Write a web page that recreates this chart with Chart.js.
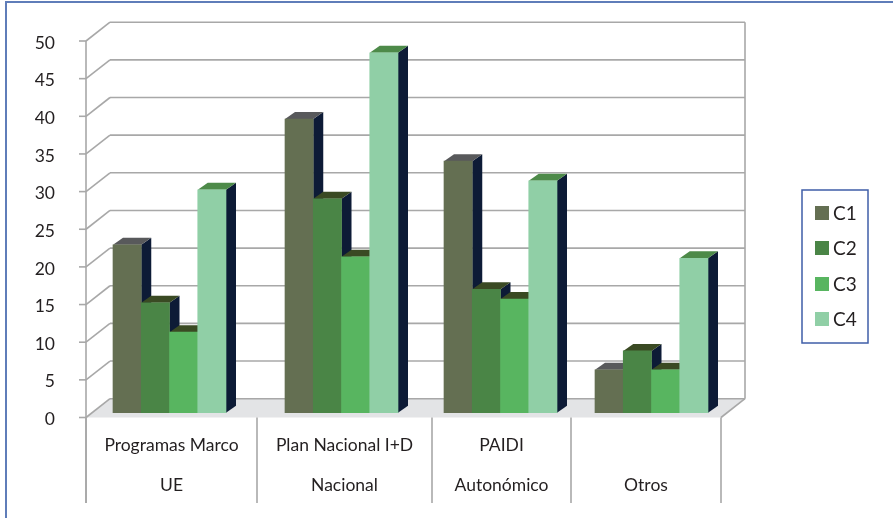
<!DOCTYPE html>
<html>
<head>
<meta charset="utf-8">
<title>C1-C4 por programa</title>
<script src="https://cdn.jsdelivr.net/npm/chart.js@4"></script>
<style>
  html, body { margin: 0; padding: 0; background: #fff; }
  canvas { display: block; }
</style>
</head>
<body>
<canvas id="chart" width="893" height="518"></canvas>
<script>
// Values per funding programme
const categories = [
  ['Programas Marco', 'UE'],
  ['Plan Nacional I+D', 'Nacional'],
  ['PAIDI', 'Autonómico'],
  ['', 'Otros'],
];
const seriesNames = ['C1', 'C2', 'C3', 'C4'];
const c1 = [22.3, 39.0, 33.4, 5.7];
const c2 = [14.6, 28.4, 16.4, 8.2];
const c3 = [10.7, 20.7, 15.1, 5.7];
const c4 = [29.6, 47.8, 30.8, 20.5];
const yMax = 50;
const yStep = 5;

// Colours: front, top and side face of each series
const frontColors = ['#646f52', '#4a8546', '#58b560', '#90cfa6'];
const topColors = ['#58595b', '#3a4a23', '#3a4a23', '#4d8a49'];
const sideColor = '#0d1b36';
const gridColor = '#a8a8a8';
const textColor = '#231f20';
const fontFamily = 'Lato, sans-serif';

// Layout of the fake 3D box, in canvas pixels
const columnEdges = [86, 257, 432, 571, 721];
const groupCenters = [169.5, 341.5, 500.5, 651.5];
const wallDepth = { x: 24, y: 18.8 };
const barDepth = { x: 10, y: 7 };
const barLift = 4.8;
const barWidth = 28.25;
const axisBottom = 503;

// Category scale with columns of unequal width
class SplitCategoryScale extends Chart.CategoryScale {
  getPixelForValue(value) {
    return groupCenters[typeof value === 'number' ? value : this.parse(value)];
  }
  getPixelForTick(index) {
    return (columnEdges[index] + columnEdges[index + 1]) / 2;
  }
}
SplitCategoryScale.id = 'splitCategory';
SplitCategoryScale.defaults = Chart.CategoryScale.defaults;
Chart.register(SplitCategoryScale);

function line(ctx, x1, y1, x2, y2) {
  ctx.beginPath();
  ctx.moveTo(x1, y1);
  ctx.lineTo(x2, y2);
  ctx.stroke();
}

function polygon(ctx, points, fill) {
  ctx.fillStyle = fill;
  ctx.beginPath();
  points.forEach((p, i) => (i ? ctx.lineTo(p[0], p[1]) : ctx.moveTo(p[0], p[1])));
  ctx.closePath();
  ctx.fill();
}

// Walls, floor and axis lines behind the bars
function drawBox(chart) {
  const { ctx, chartArea, scales } = chart;
  const { left, right, bottom } = chartArea;
  const backLeft = left + wallDepth.x;
  const backRight = right + wallDepth.x;
  const backBottom = bottom - wallDepth.y;

  ctx.save();
  polygon(ctx, [[left, bottom], [right, bottom], [backRight, backBottom], [backLeft, backBottom]], '#e3e4e6');

  ctx.strokeStyle = gridColor;
  ctx.lineWidth = 1.6;
  scales.y.ticks.forEach((tick) => {
    const y = scales.y.getPixelForValue(tick.value);
    line(ctx, backLeft, y - wallDepth.y, backRight, y - wallDepth.y);
    line(ctx, left, y, backLeft, y - wallDepth.y);
    line(ctx, left - 7, y, left, y);
  });
  const topY = scales.y.getPixelForValue(yMax);
  line(ctx, backRight, topY - wallDepth.y, backRight, backBottom);
  line(ctx, right, bottom, backRight, backBottom);
  line(ctx, left, topY, left, axisBottom);
  columnEdges.forEach((x) => line(ctx, x, bottom, x, axisBottom));
  ctx.restore();
}

// Depth faces of one dataset's bars, painted before its front faces
function drawBarFaces(ctx, meta, datasetIndex) {
  meta.data.forEach((bar) => {
    const x0 = bar.x - bar.width / 2;
    const x1 = bar.x + bar.width / 2;
    const dx = barDepth.x;
    const dy = barDepth.y;
    polygon(ctx, [[x1, bar.y], [x1 + dx, bar.y - dy], [x1 + dx, bar.base - dy], [x1, bar.base]], sideColor);
    polygon(ctx, [[x0, bar.y], [x1, bar.y], [x1 + dx, bar.y - dy], [x0 + dx, bar.y - dy]], topColors[datasetIndex]);
  });
}

const boxPlugin = {
  id: 'box3d',
  beforeDraw(chart) {
    // page frame
    const { ctx } = chart;
    ctx.save();
    ctx.fillStyle = '#5f7db9';
    ctx.fillRect(5, 1, 888, 2);
    ctx.fillRect(5, 1, 2, 517);
    ctx.restore();
  },
  beforeDatasetsDraw(chart) {
    const { ctx } = chart;
    drawBox(chart);
    ctx.save();
    ctx.translate(0, -barLift);
    chart.getSortedVisibleDatasetMetas().forEach((meta) => {
      drawBarFaces(ctx, meta, meta.index);
      meta.controller.draw();
    });
    ctx.restore();
    return false;
  },
  afterDraw(chart) {
    // boxed legend on the right
    const { ctx } = chart;
    const rowY = [213, 248, 284, 319];
    ctx.save();
    ctx.strokeStyle = '#3f5ea8';
    ctx.lineWidth = 1.5;
    ctx.strokeRect(802, 190, 66, 153);
    ctx.font = '19px ' + fontFamily;
    ctx.textBaseline = 'middle';
    seriesNames.forEach((name, i) => {
      ctx.fillStyle = frontColors[i];
      ctx.fillRect(815, rowY[i] - 7, 14, 14);
      ctx.fillStyle = textColor;
      ctx.fillText(name, 833, rowY[i] + 1);
    });
    ctx.restore();
  },
};

new Chart(document.getElementById('chart'), {
  type: 'bar',
  data: {
    labels: categories,
    datasets: [c1, c2, c3, c4].map((values, i) => ({
      label: seriesNames[i],
      data: values,
      backgroundColor: frontColors[i],
      borderWidth: 0,
      barThickness: barWidth,
    })),
  },
  options: {
    responsive: false,
    animation: false,
    layout: { padding: { top: 41, right: 172, left: 0, bottom: 0 } },
    plugins: {
      legend: { display: false },
      tooltip: { enabled: false },
    },
    scales: {
      x: {
        type: 'splitCategory',
        offset: true,
        border: { display: false },
        grid: { display: false },
        afterFit(scale) { scale.height = 100.5; },
        ticks: {
          autoSkip: false,
          maxRotation: 0,
          minRotation: 0,
          padding: 0,
          color: textColor,
          font: { family: fontFamily, size: 17.5, lineHeight: 2.286 },
        },
      },
      y: {
        min: 0,
        max: yMax,
        border: { display: false },
        grid: { display: false },
        afterFit(scale) { scale.width = 86; },
        ticks: {
          stepSize: yStep,
          padding: 23,
          labelOffset: 2,
          color: textColor,
          font: { family: fontFamily, size: 17.5 },
        },
      },
    },
  },
  plugins: [boxPlugin],
});
</script>
</body>
</html>
